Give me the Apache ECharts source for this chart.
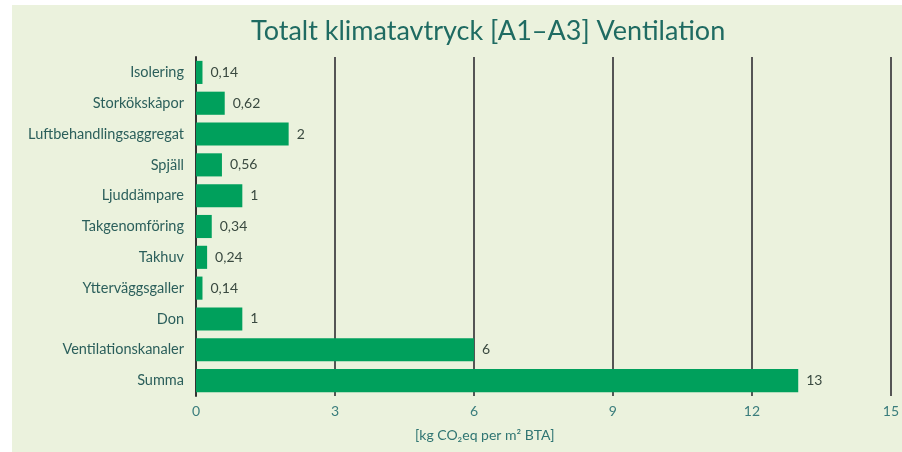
<!DOCTYPE html>
<html>
<head>
<meta charset="utf-8">
<script src="https://cdn.jsdelivr.net/npm/echarts@6/dist/echarts.min.js"></script>
<style>
  html, body { margin: 0; padding: 0; background: #fff; overflow: hidden; }
  #chart { width: 902px; height: 452px; }
</style>
</head>
<body>
<div id="chart"></div>
<script>
var categories = ['Isolering', 'Storkökskåpor', 'Luftbehandlingsaggregat', 'Spjäll', 'Ljuddämpare',
    'Takgenomföring', 'Takhuv', 'Ytterväggsgaller', 'Don', 'Ventilationskanaler', 'Summa'];
var values = [0.14, 0.62, 2, 0.56, 1, 0.34, 0.24, 0.14, 1, 6, 13];
var xTicks = [0, 3, 6, 9, 12, 15];

var chart = echarts.init(document.getElementById('chart'));
var font = 'Lato, "Open Sans", sans-serif';

chart.setOption({
    backgroundColor: '#ffffff',
    animation: false,
    title: {
        text: 'Totalt klimatavtryck [A1\u2013A3] Ventilation',
        left: 246,
        top: 13,
        textStyle: {
            color: '#1f6b62',
            fontFamily: font,
            fontSize: 27,
            fontWeight: 'normal'
        }
    },
    graphic: [
        {
            type: 'rect',
            z: -10,
            shape: {x: 12, y: 5, width: 890, height: 447},
            style: {fill: '#ebf2dd'}
        },
        {
            type: 'text',
            left: 415,
            top: 428,
            style: {
                text: '[kg CO\u2082eq per m\u00b2 BTA]',
                fill: '#2f7572',
                font: '14px ' + font
            }
        }
    ],
    grid: {
        left: 196,
        right: 5,
        top: 57,
        bottom: 56,
        containLabel: false
    },
    xAxis: {
        type: 'value',
        min: xTicks[0],
        max: xTicks[xTicks.length - 1],
        interval: 3,
        axisLine: {show: false},
        axisTick: {show: false},
        splitLine: {
            show: true,
            lineStyle: {color: '#555555', width: 2}
        },
        axisLabel: {
            color: '#3a7d7c',
            fontFamily: font,
            fontSize: 14,
            margin: 8
        }
    },
    yAxis: {
        type: 'category',
        data: categories,
        inverse: true,
        axisLine: {
            show: true,
            lineStyle: {color: '#333333', width: 2}
        },
        axisTick: {show: false},
        axisLabel: {
            color: '#2b5f5b',
            fontFamily: font,
            fontSize: 14.5,
            margin: 12
        }
    },
    series: [
        {
            type: 'bar',
            data: values,
            barCategoryGap: '25%',
            itemStyle: {color: '#00a05c'},
            label: {
                show: true,
                position: 'right',
                distance: 8,
                color: '#3a4a40',
                fontFamily: font,
                fontSize: 14,
                formatter: function (p) {
                    return String(p.value).replace('.', ',');
                }
            }
        }
    ]
});

window.onresize = chart.resize;
</script>
</body>
</html>
